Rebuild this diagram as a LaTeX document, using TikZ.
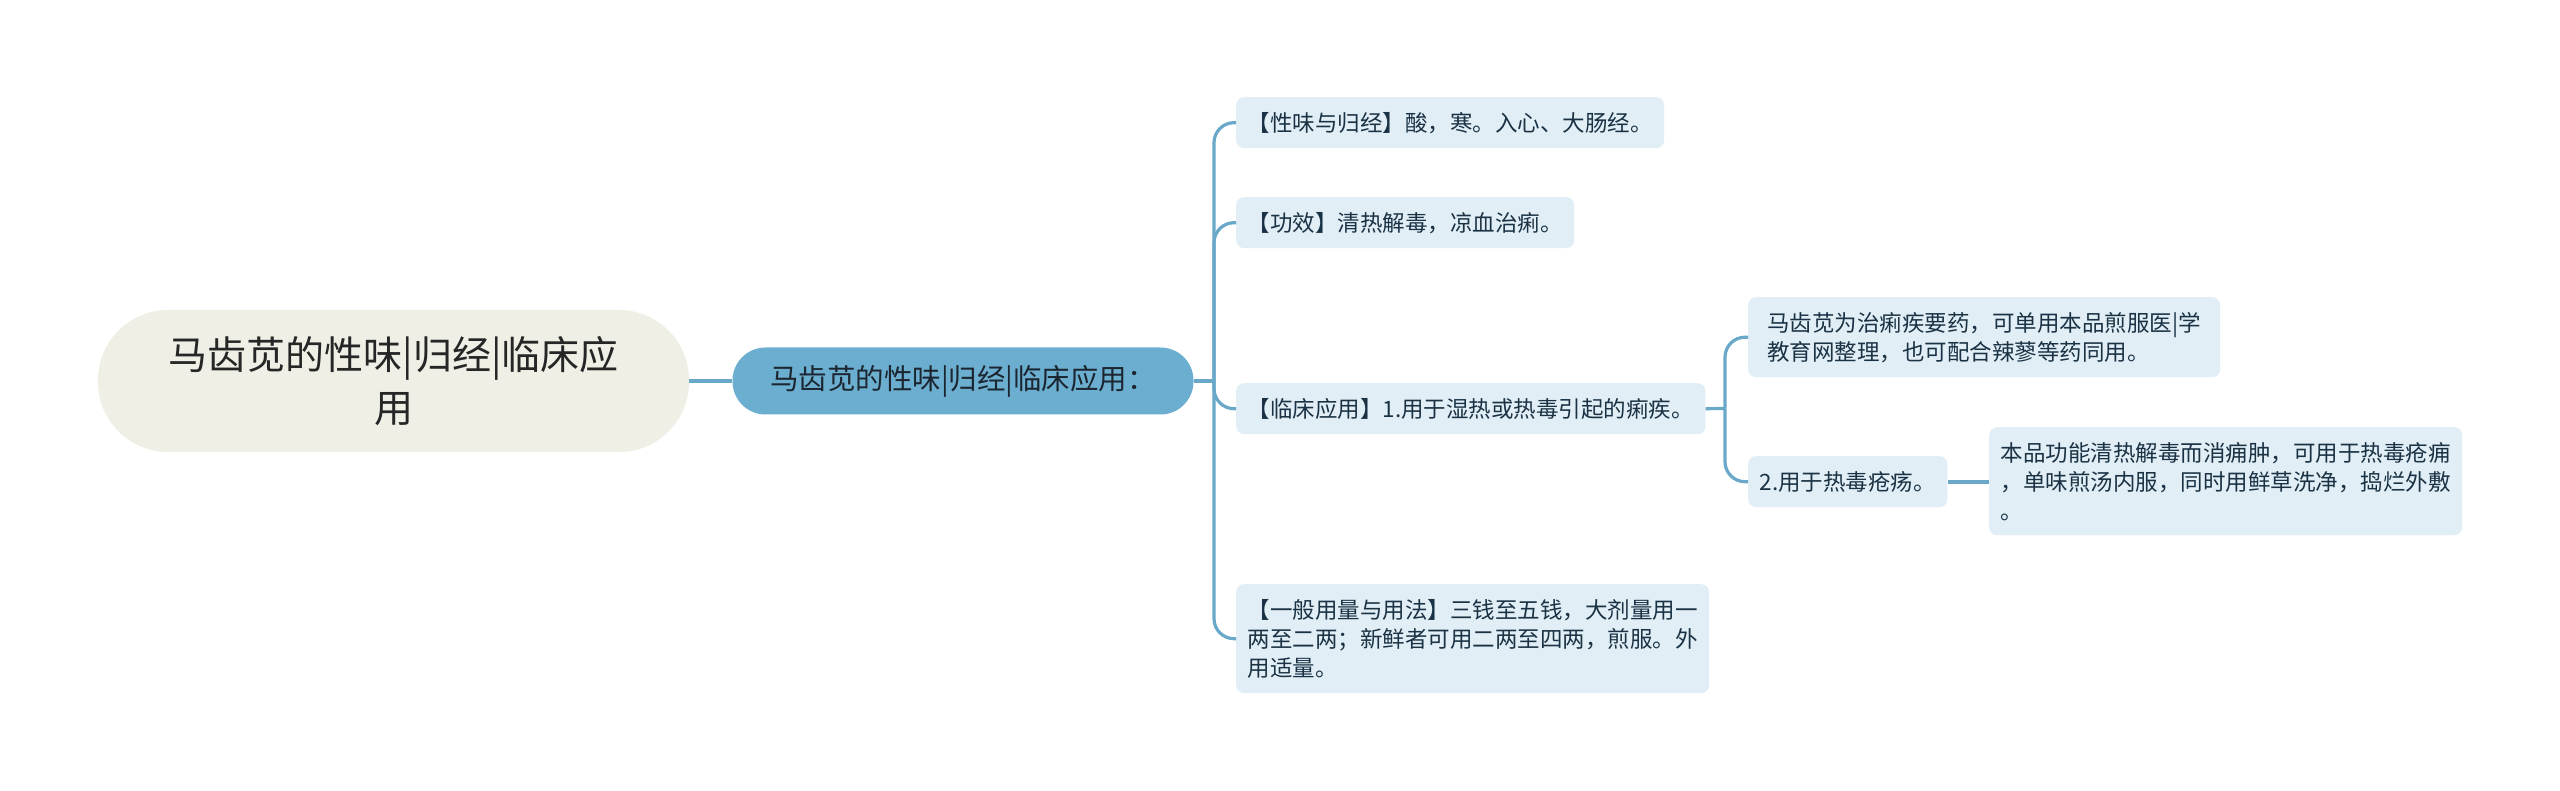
\documentclass[tikz,border=0pt]{standalone}
\usepackage{fontspec}
\setmainfont{Noto Sans CJK SC}
\definecolor{linec}{HTML}{6AA8CA}
\definecolor{rootfill}{HTML}{EFEFE6}
\definecolor{mainfill}{HTML}{6BAED0}
\definecolor{leaffill}{HTML}{E1EEF6}
\definecolor{leaftext}{HTML}{1A3244}
\definecolor{roottext}{HTML}{262626}
\definecolor{maintext}{HTML}{1C2630}
\begin{document}
\begin{tikzpicture}[x=1pt,y=-1pt,
  rootbox/.style={fill=rootfill, rounded corners=70pt, text=roottext, align=center,
    font=\fontsize{39}{53}\selectfont, inner sep=0pt},
  mainbox/.style={fill=mainfill, rounded corners=33pt, text=maintext,
    font=\fontsize{28.5}{33}\selectfont, inner sep=0pt},
  leaf/.style={fill=leaffill, rounded corners=8pt, text=leaftext, align=left,
    font=\fontsize{22.5}{29}\selectfont, inner xsep=11.5pt, inner ysep=0pt, anchor=north west},
  conn/.style={draw=linec, line width=3.2pt},
]
\useasboundingbox (0,0) rectangle (2560,791);
\fill[white] (0,0) rectangle (2560,791);

\node[rootbox, minimum width=591pt, minimum height=142pt] (root) at (393.5,381)
  {马齿苋的性味|归经|临床应\\用};
\node[mainbox, minimum width=461pt, minimum height=67pt] (main) at (963,381)
  {马齿苋的性味|归经|临床应用：};

\node[leaf, minimum width=428pt, minimum height=51pt] (n1) at (1236,97)
  {【性味与归经】酸，寒。入心、大肠经。};
\node[leaf, minimum width=338pt, minimum height=51pt] (n2) at (1236,197)
  {【功效】清热解毒，凉血治痢。};
\node[leaf, minimum width=469pt, minimum height=51pt] (n3) at (1236,383)
  {【临床应用】1.用于湿热或热毒引起的痢疾。};
\node[leaf, minimum width=473pt, minimum height=109pt] (n4) at (1236,584)
  {【一般用量与用法】三钱至五钱，大剂量用一\\两至二两；新鲜者可用二两至四两，煎服。外\\用适量。};

\node[leaf, minimum width=472pt, minimum height=80pt] (c1) at (1748,297)
  {马齿苋为治痢疾要药，可单用本品煎服医|学\\教育网整理，也可配合辣蓼等药同用。};
\node[leaf, minimum width=198pt, minimum height=51pt] (c2) at (1748,456)
  {2.用于热毒疮疡。};
\node[leaf, minimum width=473pt, minimum height=108pt] (c3) at (1989,427)
  {本品功能清热解毒而消痈肿，可用于热毒疮痈\\，单味煎汤内服，同时用鲜草洗净，捣烂外敷\\。};

\coordinate (sp) at (1214,381);
\coordinate (sp2) at (1725,408.5);

\draw[conn, line width=3.6pt] (root.east) -- (main.west);
\draw[conn] (main.east) -- (sp);
\draw[conn, rounded corners=20pt] (sp) |- (n1.west);
\draw[conn, rounded corners=20pt] (sp) |- (n2.west);
\draw[conn, rounded corners=20pt] (sp) |- (n3.west);
\draw[conn, rounded corners=20pt] (sp) |- (n4.west);

\draw[conn] (n3.east) -- (sp2);
\draw[conn, rounded corners=20pt] (sp2) |- (c1.west);
\draw[conn, rounded corners=20pt] (sp2) |- (c2.west);
\draw[conn, line width=3.6pt] (c2.east) -- (c2.east -| c3.west);
\end{tikzpicture}
\end{document}
